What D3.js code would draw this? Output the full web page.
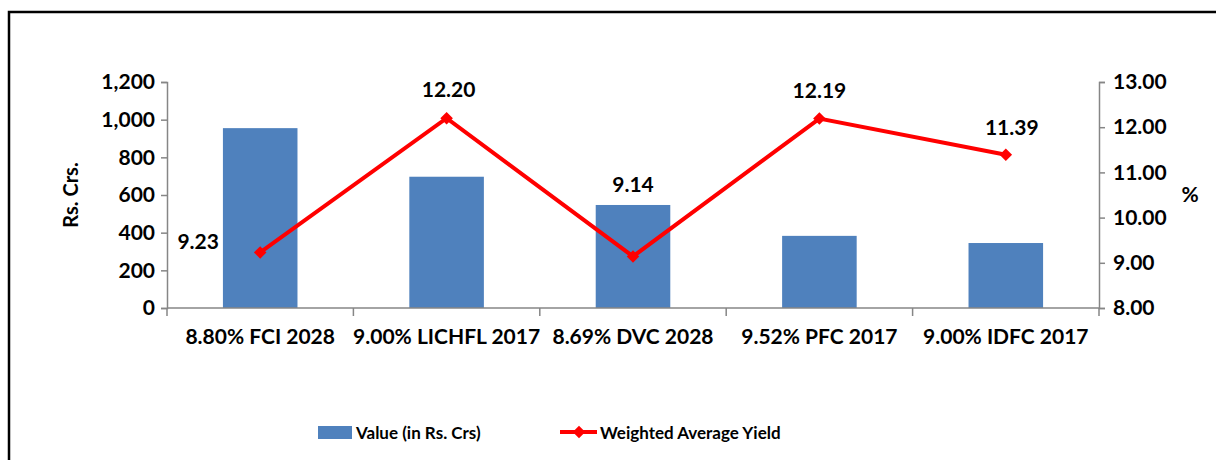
<!DOCTYPE html>
<html><head><meta charset="utf-8">
<script src="https://cdn.jsdelivr.net/npm/d3@7"></script>
<style>body{margin:0;background:#fff}svg{display:block}text{font-family:Lato,"Liberation Sans",sans-serif;font-weight:bold;fill:#000}</style>
</head><body><svg id="c" width="1216" height="460"></svg>
<script>
const categories = ["8.80% FCI 2028","9.00% LICHFL 2017","8.69% DVC 2028","9.52% PFC 2017","9.00% IDFC 2017"];
const values = [955, 697, 547, 383, 345];
const yields = [9.23, 12.20, 9.14, 12.19, 11.39];
const leftTicks = [0,200,400,600,800,1000,1200];
const rightTicks = [8,9,10,11,12,13];
const seriesNames = ["Value (in Rs. Crs)","Weighted Average Yield"];

const svg = d3.select("#c");
svg.append("rect").attr("x",9).attr("y",12).attr("width",1216).attr("height",460).attr("fill","none").attr("stroke","#000").attr("stroke-width",2.5);

const x = d3.scaleBand().domain(categories).range([167,1099]).paddingInner(0).paddingOuter(0);
const yL = d3.scaleLinear().domain([0,1200]).range([308,82]);
const yR = d3.scaleLinear().domain([8,13]).range([308,82]);
const axisCol = "#868686";
const FS = 21;

// bars
const bw = x.bandwidth()*0.4;
svg.selectAll(".bar").data(values).enter().append("rect")
  .attr("x",(d,i)=>x(categories[i])+x.bandwidth()/2-bw/2)
  .attr("y",d=>yL(d)).attr("width",bw).attr("height",d=>yL(0)-yL(d)).attr("fill","#4F81BD");

// axes
const gl = svg.append("g").attr("transform","translate(167,0)").call(d3.axisLeft(yL).tickValues(leftTicks).tickFormat(d3.format(",")).tickSize(6).tickPadding(6));
const gr = svg.append("g").attr("transform","translate(1099,0)").call(d3.axisRight(yR).tickValues(rightTicks).tickFormat(d3.format(".2f")).tickSize(6).tickPadding(8));
const gx = svg.append("g").attr("transform","translate(0,308)").call(d3.axisBottom(x).tickSize(0).tickPadding(21));
[gl,gr,gx].forEach(g=>{g.select(".domain").attr("stroke",axisCol).attr("stroke-width",1.5);g.selectAll(".tick line").attr("stroke",axisCol).attr("stroke-width",1.5);g.selectAll("text").attr("font-size",FS).style("font-family","Lato,'Liberation Sans',sans-serif").style("font-weight","bold").attr("fill","#000");});
gx.select(".domain").attr("d","M167,0H1099");
svg.selectAll(".xt").data(d3.range(categories.length+1)).enter().append("line")
  .attr("x1",i=>167+i*x.step()).attr("x2",i=>167+i*x.step()).attr("y1",308).attr("y2",316)
  .attr("stroke",axisCol).attr("stroke-width",1.5);

// axis titles
svg.append("text").attr("transform","translate(78,195) rotate(-90)").attr("text-anchor","middle").attr("font-size",20).text("Rs. Crs.");
svg.append("text").attr("x",1190).attr("y",202).attr("text-anchor","middle").attr("font-size",FS).text("%");

// line
const cx = (d,i)=>x(categories[i])+x.bandwidth()/2;
const line = d3.line().x((d,i)=>cx(d,i)).y(d=>yR(d));
svg.append("path").datum(yields).attr("d",line).attr("fill","none").attr("stroke","#FF0000").attr("stroke-width",4).attr("stroke-linejoin","miter");
const diamond = d3.symbol().type(d3.symbolDiamond2).size(100);
svg.selectAll(".mk").data(yields).enter().append("path").attr("d",diamond)
  .attr("transform",(d,i)=>`translate(${cx(d,i)},${yR(d)})`).attr("fill","#FF0000");

// labels
const labOff = [[-62,-3],[2,-21],[0,-64],[0,-21],[6,-20]];
svg.selectAll(".lb").data(yields).enter().append("text")
  .attr("x",(d,i)=>cx(d,i)+labOff[i][0]).attr("y",(d,i)=>yR(d)+labOff[i][1])
  .attr("text-anchor","middle").attr("font-size",FS).text(d=>d3.format(".2f")(d));

// legend
svg.append("rect").attr("x",318).attr("y",426).attr("width",34).attr("height",13).attr("fill","#4F81BD");
svg.append("text").attr("x",356).attr("y",439).attr("font-size",17).text(seriesNames[0]);
svg.append("line").attr("x1",560).attr("x2",597).attr("y1",432).attr("y2",432).attr("stroke","#FF0000").attr("stroke-width",4);
svg.append("path").attr("d",diamond).attr("transform","translate(579,432)").attr("fill","#FF0000");
svg.append("text").attr("x",600).attr("y",439).attr("font-size",17).text(seriesNames[1]);
</script></body></html>
